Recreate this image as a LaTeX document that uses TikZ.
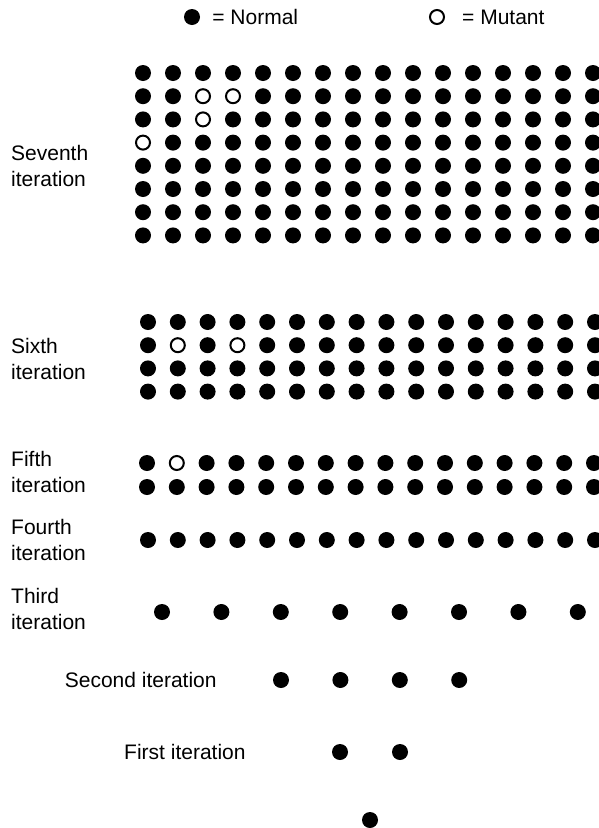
\documentclass[tikz,border=0pt]{standalone}
\usepackage{fontspec}
\setmainfont{Liberation Sans}
\usepackage{tikz}
\usetikzlibrary{positioning}

\begin{document}
\begin{tikzpicture}[
    x=1pt, y=-1pt,
    font=\fontsize{21}{26}\selectfont,
    normaldot/.style={circle, fill=black, inner sep=0pt, minimum size=16pt},
    mutantdot/.style={circle, draw=black, line width=2pt, fill=white, inner sep=0pt, minimum size=14pt},
    iterlabel/.style={align=left, anchor=west, inner sep=0pt},
    % mutant cells (generation row-column)
    g7 2-3/.style={mutantdot}, g7 2-4/.style={mutantdot},
    g7 3-3/.style={mutantdot}, g7 4-1/.style={mutantdot},
    g6 2-2/.style={mutantdot}, g6 2-4/.style={mutantdot},
    g5 1-2/.style={mutantdot}
]
\useasboundingbox (0,0) rectangle (599,828);

% Legend
\node[normaldot] (keynormal) at (192,17) {};
\node[right=12pt of keynormal, inner sep=0pt] (keynormaltext) {= Normal};
\node[mutantdot] (keymutant) at (437,17) {};
\node[right=17pt of keymutant, inner sep=0pt] (keymutanttext) {= Mutant};

% Seventh iteration
\foreach \r in {1,...,8}
  \foreach \c in {1,...,16}
    \node[normaldot, g7 \r-\c/.try] (g7-\r-\c) at ({143+30*(\c-1)}, {73+23.2*(\r-1)}) {};
\node[iterlabel] (lab7) at (11,165.5) {Seventh\\iteration};

% Sixth iteration
\foreach \r in {1,...,4}
  \foreach \c in {1,...,16}
    \node[normaldot, g6 \r-\c/.try] (g6-\r-\c) at ({148+29.8*(\c-1)}, {322+23.2*(\r-1)}) {};
\node[iterlabel] (lab6) at (11,358.5) {Sixth\\iteration};

% Fifth iteration
\foreach \r in {1,2}
  \foreach \c in {1,...,16}
    \node[normaldot, g5 \r-\c/.try] (g5-\r-\c) at ({147+29.8*(\c-1)}, {463+24*(\r-1)}) {};
\node[iterlabel] (lab5) at (11,472) {Fifth\\iteration};

% Fourth iteration
\foreach \c in {1,...,16}
  \node[normaldot] (g4-\c) at ({148+29.8*(\c-1)}, 540) {};
\node[iterlabel] (lab4) at (11,539.5) {Fourth\\iteration};

% Third iteration
\foreach \c in {1,...,8}
  \node[normaldot] (g3-\c) at ({162+59.4*(\c-1)}, 612) {};
\node[iterlabel] (lab3) at (11,608.5) {Third\\iteration};

% Second iteration
\foreach \c in {1,...,4}
  \node[normaldot] (g2-\c) at ({281+59.4*(\c-1)}, 680) {};
\node[iterlabel, left=56pt of g2-1] (lab2) {Second iteration};

% First iteration
\node[normaldot] (g1-1) at (340,752) {};
\node[normaldot] (g1-2) at (400,752) {};
\node[iterlabel, left=86pt of g1-1] (lab1) {First iteration};

% Starting cell
\node[normaldot] (g0) at (370,820) {};
\end{tikzpicture}
\end{document}
